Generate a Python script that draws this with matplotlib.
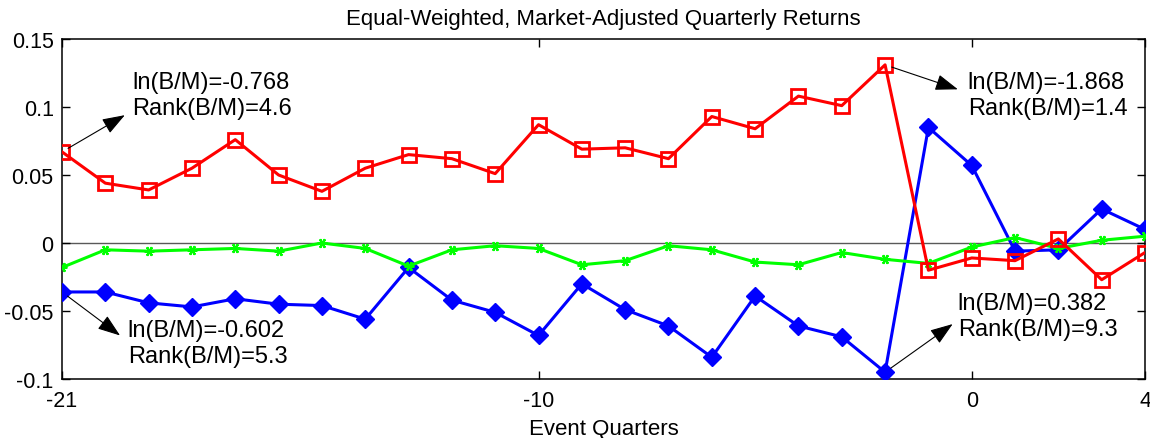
import numpy as np
import matplotlib
matplotlib.use("Agg")
import matplotlib.pyplot as plt

plt.rcParams['font.family'] = ['Liberation Sans', 'DejaVu Sans']

# Event quarters relative to the event (quarter 0)
quarters = np.arange(-21, 5)

# Equal-weighted, market-adjusted quarterly returns for three portfolios
growth_returns = [0.067, 0.044, 0.039, 0.055, 0.076, 0.050, 0.038, 0.055, 0.065,
                  0.062, 0.051, 0.087, 0.069, 0.070, 0.062, 0.093, 0.084, 0.108,
                  0.101, 0.131, -0.020, -0.011, -0.013, 0.003, -0.027, -0.007]
value_returns = [-0.036, -0.036, -0.044, -0.047, -0.041, -0.045, -0.046, -0.056,
                 -0.018, -0.042, -0.051, -0.068, -0.030, -0.049, -0.061, -0.084,
                 -0.039, -0.061, -0.069, -0.095, 0.085, 0.057, -0.006, -0.005,
                 0.025, 0.010]
diff_returns = [-0.018, -0.005, -0.006, -0.005, -0.004, -0.006, 0.000, -0.004,
                -0.017, -0.005, -0.002, -0.004, -0.016, -0.013, -0.002, -0.005,
                -0.014, -0.016, -0.007, -0.012, -0.015, -0.003, 0.004, -0.004,
                0.002, 0.005]

x_ticks = [-21, -10, 0, 4]
y_ticks = [-0.1, -0.05, 0, 0.05, 0.1, 0.15]
y_tick_labels = ['-0.1', '-0.05', '0', '0.05', '0.1', '0.15']

fig = plt.figure(figsize=(11.5, 4.39), dpi=100)
ax = fig.add_axes([62 / 1150, 1 - 380 / 439, (1145 - 62) / 1150, 340 / 439])

ax.axhline(0, color='0.35', lw=1.0, zorder=1)

ax.plot(quarters, value_returns, color='#0000ff', lw=2.2, marker='D',
        markersize=9.5, markerfacecolor='#0000ff', markeredgecolor='#0000ff', zorder=3)
ax.plot(quarters, diff_returns, color='#00ff00', lw=2.2, marker=(6, 2, 90),
        markersize=7, markeredgewidth=1.6, markeredgecolor='#00ff00', zorder=4)
ax.plot(quarters, growth_returns, color='#ff0000', lw=2.2, marker='s',
        markersize=10, markerfacecolor='none', markeredgecolor='#ff0000',
        markeredgewidth=2.0, zorder=5)

ax.set_xlim(-21, 4)
ax.set_ylim(-0.1, 0.15)
ax.set_xticks(x_ticks)
ax.set_xticklabels([str(t) for t in x_ticks])
ax.set_yticks(y_ticks)
ax.set_yticklabels(y_tick_labels)
ax.tick_params(axis='both', direction='in', length=6, width=1.0,
               top=True, right=True, labelsize=15.5)
ax.tick_params(axis='y', pad=6)
ax.tick_params(axis='x', pad=8)
for s in ax.spines.values():
    s.set_linewidth(1.1)

ax.set_title('Equal-Weighted, Market-Adjusted Quarterly Returns', fontsize=16, pad=11)
ax.set_xlabel('Event Quarters', fontsize=16, labelpad=5)

# Call-outs describing the book-to-market characteristics of each portfolio
callouts = [
    ((-21, growth_returns[0]), (-19.55, 0.094), (-19.37, 0.1087),
     'ln(B/M)=-0.768\nRank(B/M)=4.6'),
    ((-2, growth_returns[19]), (-0.32, 0.113), (-0.09, 0.109),
     'ln(B/M)=-1.868\nRank(B/M)=1.4'),
    ((-21, value_returns[0]), (-19.66, -0.068), (-19.48, -0.0735),
     'ln(B/M)=-0.602\nRank(B/M)=5.3'),
    ((-2, value_returns[19]), (-0.44, -0.0596), (-0.32, -0.0537),
     'ln(B/M)=0.382\nRank(B/M)=9.3'),
]
for start, head, tpos, label in callouts:
    ax.annotate('', xy=head, xytext=start,
                arrowprops=dict(arrowstyle='-|>,head_length=0.7,head_width=0.25',
                                mutation_scale=20, color='black', lw=0.8,
                                shrinkA=5, shrinkB=0),
                zorder=6)
    ax.text(tpos[0], tpos[1], label, ha='left', va='center', fontsize=17,
            linespacing=1.25, zorder=7)

fig.savefig('out.png', dpi=100)
